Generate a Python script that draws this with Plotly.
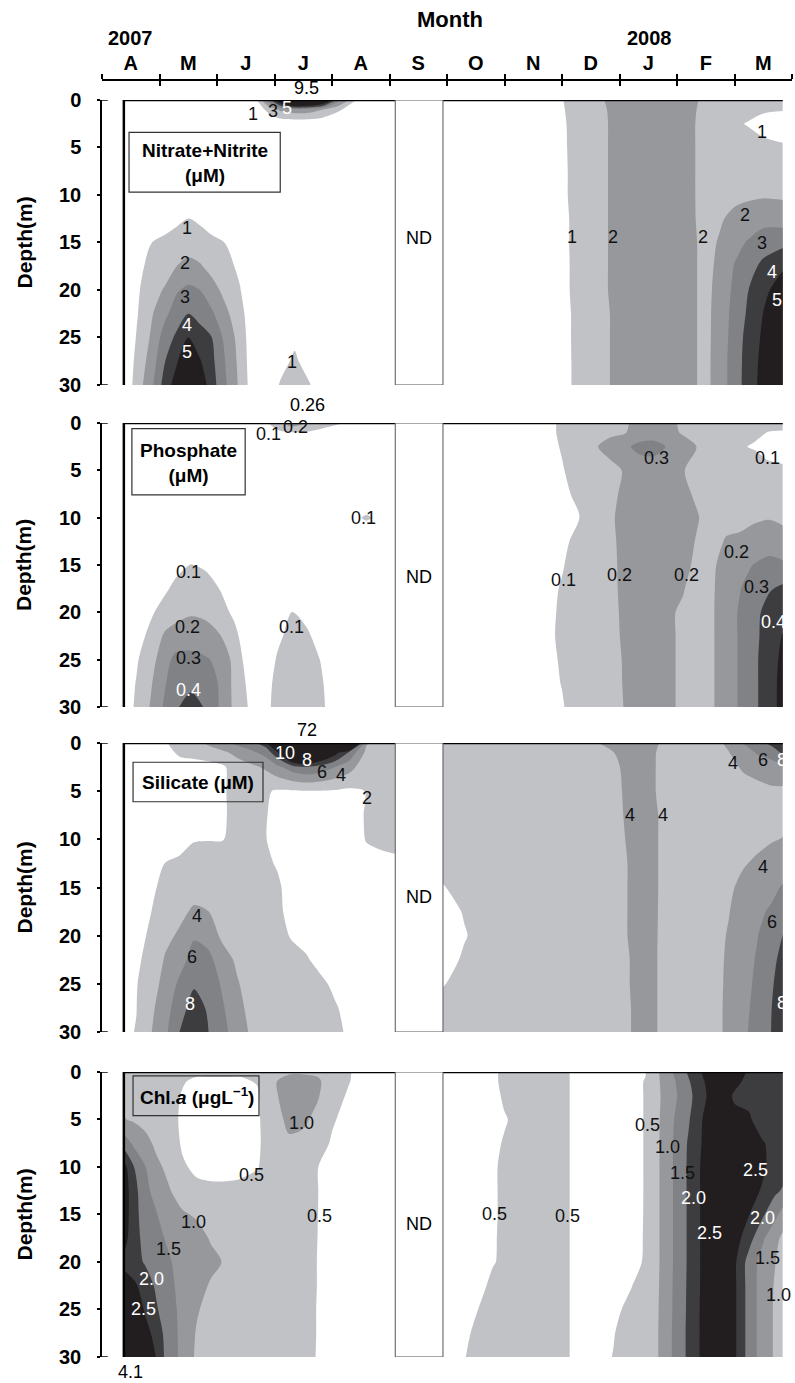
import plotly.graph_objects as go

# Sampling depths (m) shared by every section
DEPTH = [0, 1, 2.5, 5, 7.5, 10, 12.5, 15, 17.5, 20, 22.5, 25, 27.5, 30]
MONTHS = ["A", "M", "J", "J", "A", "S", "O", "N", "D", "J", "F", "M"]

# ---- Nitrate+Nitrite (uM); time in months from 1 April 2007, one profile per cast ----
NO3_X_A = [0.38, 0.6, 0.85, 1.1, 1.3, 1.5, 1.7, 1.9, 2.15, 2.4, 2.65, 2.9, 3.1, 3.35, 3.6, 3.85, 4.1, 4.45, 4.8, 5.1]
NO3_A = [
    [0.1, 0.1, 0.1, 0.1, 0.1, 0.1, 0.1, 0.1, 0.1, 0.1, 0.1, 0.1, 0.1, 0.1],
    [0.1, 0.1, 0.1, 0.1, 0.1, 0.1, 0.1, 0.3, 0.6, 0.8, 0.9, 1.05, 1.25, 1.45],
    [0.1, 0.1, 0.1, 0.1, 0.1, 0.1, 0.5, 0.98, 1.35, 1.63, 1.85, 2.1, 2.4, 2.7],
    [0.1, 0.1, 0.1, 0.1, 0.1, 0.15, 0.6, 1.2, 1.6, 2.1, 2.8, 3.5, 4.0, 4.5],
    [0.1, 0.1, 0.1, 0.1, 0.1, 0.15, 0.8, 1.4, 2.0, 2.9, 3.5, 4.2, 4.9, 5.5],
    [0.1, 0.1, 0.1, 0.1, 0.1, 0.2, 1.02, 1.5, 2.3, 3.2, 4.0, 5.0, 6.0, 6.8],
    [0.1, 0.1, 0.1, 0.1, 0.1, 0.15, 0.85, 1.4, 2.1, 3.0, 3.7, 4.4, 5.1, 5.8],
    [0.1, 0.1, 0.1, 0.1, 0.1, 0.1, 0.6, 1.2, 1.7, 2.4, 3.2, 4.05, 4.3, 4.5],
    [0.1, 0.1, 0.1, 0.1, 0.1, 0.1, 0.4, 0.98, 1.3, 1.7, 2.2, 2.7, 2.95, 3.1],
    [0.1, 0.1, 0.1, 0.1, 0.1, 0.1, 0.1, 0.5, 0.8, 1.05, 1.4, 1.6, 1.7, 1.8],
    [0.5, 0.3, 0.1, 0.1, 0.1, 0.1, 0.1, 0.1, 0.1, 0.1, 0.1, 0.2, 0.25, 0.3],
    [3.5, 1.3, 0.2, 0.1, 0.1, 0.1, 0.1, 0.1, 0.1, 0.1, 0.1, 0.1, 0.2, 0.3],
    [6.5, 2.2, 0.3, 0.1, 0.1, 0.1, 0.1, 0.1, 0.1, 0.1, 0.1, 0.3, 0.6, 1.1],
    [9.5, 2.6, 0.3, 0.1, 0.1, 0.1, 0.1, 0.1, 0.1, 0.1, 0.2, 0.75, 1.2, 1.5],
    [9.0, 2.5, 0.3, 0.1, 0.1, 0.1, 0.1, 0.1, 0.1, 0.1, 0.1, 0.3, 0.5, 1.1],
    [7.0, 2.0, 0.2, 0.1, 0.1, 0.1, 0.1, 0.1, 0.1, 0.1, 0.1, 0.1, 0.1, 0.2],
    [3.5, 1.2, 0.1, 0.1, 0.1, 0.1, 0.1, 0.1, 0.1, 0.1, 0.1, 0.1, 0.1, 0.1],
    [0.8, 0.3, 0.1, 0.1, 0.1, 0.1, 0.1, 0.1, 0.1, 0.1, 0.1, 0.1, 0.1, 0.1],
    [0.1, 0.1, 0.1, 0.1, 0.1, 0.1, 0.1, 0.1, 0.1, 0.1, 0.1, 0.1, 0.1, 0.1],
    [0.1, 0.1, 0.1, 0.1, 0.1, 0.1, 0.1, 0.1, 0.1, 0.1, 0.1, 0.1, 0.1, 0.1],
]
NO3_X_B = [5.93, 7.0, 7.8, 8.3, 8.6, 9.0, 9.5, 10.0, 10.25, 10.5, 10.75, 11.0, 11.25, 11.5, 11.84]
NO3_B = [
    [0.1, 0.1, 0.1, 0.1, 0.1, 0.1, 0.1, 0.1, 0.1, 0.1, 0.1, 0.1, 0.1, 0.1],
    [0.2, 0.2, 0.2, 0.2, 0.2, 0.2, 0.2, 0.2, 0.2, 0.2, 0.2, 0.2, 0.2, 0.2],
    [0.6, 0.55, 0.5, 0.45, 0.4, 0.4, 0.35, 0.35, 0.3, 0.3, 0.25, 0.25, 0.2, 0.2],
    [1.5, 1.45, 1.4, 1.4, 1.4, 1.4, 1.35, 1.35, 1.35, 1.35, 1.3, 1.3, 1.3, 1.3],
    [1.85, 1.75, 1.7, 1.7, 1.7, 1.7, 1.7, 1.7, 1.7, 1.7, 1.65, 1.65, 1.65, 1.65],
    [2.3, 2.3, 2.3, 2.3, 2.3, 2.3, 2.3, 2.3, 2.3, 2.3, 2.25, 2.25, 2.25, 2.25],
    [2.6, 2.6, 2.6, 2.6, 2.6, 2.6, 2.6, 2.6, 2.6, 2.6, 2.6, 2.6, 2.6, 2.6],
    [2.5, 2.5, 2.5, 2.5, 2.5, 2.5, 2.5, 2.5, 2.5, 2.5, 2.5, 2.5, 2.5, 2.5],
    [2.3, 2.2, 2.15, 2.15, 2.15, 2.15, 2.15, 2.2, 2.2, 2.2, 2.2, 2.2, 2.2, 2.2],
    [1.7, 1.65, 1.6, 1.6, 1.6, 1.6, 1.65, 1.7, 1.7, 1.7, 1.7, 1.7, 1.7, 1.7],
    [1.5, 1.4, 1.3, 1.3, 1.4, 1.6, 1.9, 2.1, 2.25, 2.4, 2.5, 2.55, 2.6, 2.6],
    [1.5, 1.3, 1.1, 1.3, 1.6, 1.75, 2.25, 2.7, 3.05, 3.2, 3.3, 3.35, 3.4, 3.4],
    [1.4, 1.2, 0.95, 1.3, 1.7, 1.85, 2.45, 3.1, 3.7, 4.02, 4.2, 4.45, 4.55, 4.6],
    [1.3, 1.1, 0.75, 1.2, 1.8, 1.9, 2.6, 3.6, 4.2, 4.7, 5.02, 5.15, 5.25, 5.3],
    [1.3, 1.05, 0.6, 1.1, 1.7, 1.85, 2.55, 3.75, 4.85, 5.6, 6.0, 6.3, 6.5, 6.6],
]

# ---- Phosphate (uM) ----
PO4_X_A = [0.38, 0.6, 0.85, 1.1, 1.3, 1.55, 1.8, 2.05, 2.3, 2.55, 2.8, 3.05, 3.3, 3.55, 3.8, 4.1, 4.6, 5.1]
PO4_A = [
    [0.03, 0.03, 0.03, 0.03, 0.03, 0.03, 0.03, 0.03, 0.04, 0.04, 0.04, 0.05, 0.05, 0.05],
    [0.03, 0.03, 0.03, 0.03, 0.03, 0.03, 0.03, 0.04, 0.05, 0.06, 0.07, 0.09, 0.105, 0.115],
    [0.03, 0.03, 0.03, 0.03, 0.03, 0.03, 0.04, 0.05, 0.07, 0.09, 0.12, 0.16, 0.19, 0.21],
    [0.03, 0.03, 0.03, 0.03, 0.03, 0.03, 0.04, 0.06, 0.09, 0.13, 0.22, 0.27, 0.295, 0.32],
    [0.03, 0.03, 0.03, 0.03, 0.03, 0.04, 0.05, 0.08, 0.12, 0.17, 0.24, 0.33, 0.36, 0.39],
    [0.03, 0.03, 0.03, 0.03, 0.03, 0.04, 0.06, 0.102, 0.14, 0.19, 0.25, 0.33, 0.37, 0.45],
    [0.03, 0.03, 0.03, 0.03, 0.03, 0.04, 0.05, 0.09, 0.13, 0.18, 0.24, 0.31, 0.36, 0.39],
    [0.03, 0.03, 0.03, 0.03, 0.03, 0.03, 0.04, 0.05, 0.098, 0.14, 0.205, 0.28, 0.29, 0.29],
    [0.03, 0.03, 0.03, 0.03, 0.03, 0.03, 0.03, 0.04, 0.05, 0.08, 0.13, 0.17, 0.175, 0.18],
    [0.04, 0.03, 0.03, 0.03, 0.03, 0.03, 0.03, 0.03, 0.03, 0.03, 0.03, 0.05, 0.08, 0.095],
    [0.06, 0.04, 0.03, 0.03, 0.03, 0.03, 0.03, 0.03, 0.03, 0.03, 0.03, 0.03, 0.03, 0.03],
    [0.17, 0.07, 0.04, 0.03, 0.03, 0.03, 0.03, 0.03, 0.03, 0.04, 0.08, 0.11, 0.14, 0.16],
    [0.26, 0.095, 0.05, 0.03, 0.03, 0.03, 0.03, 0.04, 0.06, 0.102, 0.13, 0.16, 0.18, 0.19],
    [0.205, 0.09, 0.05, 0.03, 0.03, 0.03, 0.03, 0.03, 0.04, 0.07, 0.12, 0.14, 0.15, 0.16],
    [0.15, 0.07, 0.04, 0.03, 0.03, 0.04, 0.03, 0.03, 0.03, 0.04, 0.06, 0.098, 0.115, 0.125],
    [0.11, 0.05, 0.04, 0.04, 0.05, 0.08, 0.05, 0.04, 0.03, 0.03, 0.03, 0.03, 0.03, 0.03],
    [0.06, 0.05, 0.04, 0.05, 0.07, 0.104, 0.07, 0.05, 0.04, 0.03, 0.03, 0.03, 0.03, 0.03],
    [0.05, 0.05, 0.05, 0.05, 0.06, 0.08, 0.06, 0.05, 0.04, 0.04, 0.04, 0.04, 0.04, 0.04],
]
PO4_X_B = [5.93, 7.0, 7.7, 8.0, 8.3, 8.6, 8.85, 9.1, 9.35, 9.6, 9.85, 10.1, 10.35, 10.6, 10.85, 11.1, 11.35, 11.6, 11.84]
PO4_B = [
    [0.04, 0.04, 0.04, 0.04, 0.04, 0.04, 0.04, 0.04, 0.04, 0.04, 0.04, 0.04, 0.04, 0.04],
    [0.05, 0.05, 0.05, 0.05, 0.05, 0.05, 0.05, 0.05, 0.05, 0.05, 0.05, 0.05, 0.05, 0.05],
    [0.08, 0.08, 0.075, 0.07, 0.06, 0.05, 0.06, 0.07, 0.08, 0.08, 0.085, 0.085, 0.08, 0.075],
    [0.11, 0.11, 0.105, 0.095, 0.085, 0.07, 0.085, 0.095, 0.105, 0.11, 0.11, 0.105, 0.102, 0.095],
    [0.14, 0.14, 0.15, 0.13, 0.115, 0.098, 0.12, 0.13, 0.14, 0.14, 0.14, 0.135, 0.13, 0.13],
    [0.15, 0.16, 0.195, 0.15, 0.14, 0.14, 0.15, 0.15, 0.15, 0.15, 0.15, 0.15, 0.15, 0.15],
    [0.16, 0.18, 0.24, 0.17, 0.18, 0.19, 0.185, 0.18, 0.18, 0.175, 0.175, 0.17, 0.17, 0.165],
    [0.19, 0.195, 0.28, 0.21, 0.22, 0.226, 0.225, 0.225, 0.222, 0.22, 0.215, 0.21, 0.208, 0.205],
    [0.23, 0.24, 0.33, 0.24, 0.24, 0.24, 0.24, 0.24, 0.24, 0.235, 0.235, 0.23, 0.23, 0.23],
    [0.24, 0.245, 0.34, 0.24, 0.245, 0.245, 0.245, 0.245, 0.24, 0.24, 0.235, 0.235, 0.235, 0.235],
    [0.22, 0.23, 0.29, 0.23, 0.235, 0.24, 0.24, 0.235, 0.22, 0.21, 0.21, 0.21, 0.21, 0.215],
    [0.187, 0.19, 0.24, 0.205, 0.215, 0.225, 0.225, 0.22, 0.205, 0.19, 0.19, 0.19, 0.19, 0.185],
    [0.16, 0.165, 0.198, 0.17, 0.19, 0.205, 0.195, 0.185, 0.17, 0.16, 0.16, 0.16, 0.16, 0.16],
    [0.15, 0.14, 0.13, 0.14, 0.16, 0.17, 0.175, 0.18, 0.185, 0.185, 0.185, 0.185, 0.185, 0.185],
    [0.15, 0.13, 0.12, 0.14, 0.16, 0.18, 0.205, 0.24, 0.25, 0.26, 0.26, 0.26, 0.26, 0.26],
    [0.14, 0.12, 0.105, 0.13, 0.16, 0.185, 0.21, 0.27, 0.298, 0.31, 0.31, 0.31, 0.31, 0.31],
    [0.13, 0.11, 0.095, 0.13, 0.16, 0.19, 0.23, 0.305, 0.34, 0.37, 0.375, 0.38, 0.38, 0.38],
    [0.12, 0.098, 0.07, 0.12, 0.16, 0.195, 0.25, 0.33, 0.39, 0.44, 0.45, 0.46, 0.46, 0.46],
    [0.12, 0.095, 0.06, 0.115, 0.16, 0.19, 0.22, 0.32, 0.42, 0.47, 0.505, 0.52, 0.53, 0.53],
]

# ---- Silicate (uM) ----
SI_X_A = [0.38, 0.6, 0.85, 1.1, 1.35, 1.6, 1.85, 2.1, 2.35, 2.6, 2.85, 3.05, 3.3, 3.55, 3.8, 4.05, 4.3, 4.6, 4.85, 5.1]
SI_A = [
    [1.0, 1.0, 1.0, 1.0, 1.0, 1.0, 1.1, 1.2, 1.3, 1.4, 1.5, 1.6, 1.7, 1.8],
    [1.0, 1.0, 1.0, 1.0, 1.0, 1.1, 1.2, 1.4, 1.6, 1.7, 1.75, 1.9, 1.98, 2.05],
    [1.2, 1.1, 1.0, 1.0, 1.1, 1.3, 1.6, 1.8, 1.98, 2.15, 2.5, 3.2, 3.6, 3.9],
    [1.9, 1.6, 1.2, 1.1, 1.2, 1.5, 2.02, 2.3, 2.6, 3.5, 4.2, 4.6, 5.1, 5.6],
    [2.5, 2.2, 1.5, 1.2, 1.3, 1.6, 2.2, 2.8, 3.5, 4.3, 5.2, 6.4, 7.3, 8.02],
    [3.0, 2.4, 1.5, 1.3, 1.5, 1.9, 2.7, 3.2, 4.3, 5.8, 6.8, 7.8, 8.7, 9.5],
    [4.5, 2.6, 1.6, 1.5, 1.6, 1.95, 2.7, 3.1, 4.02, 5.3, 6.5, 7.2, 7.8, 8.02],
    [5.5, 3.6, 1.7, 1.8, 1.8, 1.95, 2.6, 2.8, 3.0, 3.5, 5.0, 5.7, 6.2, 6.6],
    [6.5, 4.6, 3.0, 2.6, 2.5, 2.5, 2.6, 2.6, 2.7, 3.0, 3.6, 4.2, 4.6, 5.0],
    [7.6, 5.5, 3.6, 2.8, 2.6, 2.6, 2.6, 2.6, 2.7, 2.8, 2.9, 3.0, 3.4, 3.7],
    [9.0, 6.8, 4.3, 2.2, 2.05, 2.02, 2.1, 2.3, 2.4, 2.6, 2.8, 2.9, 3.0, 3.0],
    [25.0, 9.5, 5.5, 1.8, 1.7, 1.75, 1.95, 2.1, 2.2, 2.4, 2.6, 2.7, 2.8, 2.8],
    [55.0, 16.0, 7.0, 1.8, 1.6, 1.5, 1.55, 1.75, 1.7, 1.9, 2.4, 2.6, 2.7, 2.75],
    [72.0, 18.0, 7.8, 1.9, 1.6, 1.4, 1.4, 1.5, 1.6, 1.7, 2.1, 2.4, 2.55, 2.6],
    [60.0, 14.0, 7.2, 1.9, 1.6, 1.4, 1.4, 1.4, 1.5, 1.6, 1.7, 2.2, 2.4, 2.5],
    [40.0, 11.0, 6.0, 1.8, 1.6, 1.5, 1.4, 1.4, 1.4, 1.5, 1.6, 1.8, 2.1, 2.3],
    [20.0, 7.5, 4.8, 1.6, 1.5, 1.5, 1.4, 1.3, 1.3, 1.4, 1.5, 1.6, 1.7, 1.8],
    [4.2, 3.5, 2.6, 2.05, 2.1, 2.05, 1.7, 1.5, 1.4, 1.4, 1.4, 1.5, 1.5, 1.6],
    [3.0, 2.8, 2.5, 2.3, 2.3, 2.2, 1.75, 1.6, 1.5, 1.5, 1.5, 1.5, 1.5, 1.6],
    [2.8, 2.7, 2.5, 2.4, 2.4, 2.3, 1.8, 1.7, 1.6, 1.6, 1.6, 1.6, 1.6, 1.6],
]
SI_X_B = [5.93, 6.3, 6.7, 7.3, 8.0, 8.6, 8.9, 9.15, 9.4, 9.65, 9.9, 10.3, 10.65, 10.9, 11.15, 11.4, 11.65, 11.84]
SI_B = [
    [2.5, 2.5, 2.5, 2.5, 2.5, 2.4, 2.3, 1.95, 1.7, 1.5, 1.7, 1.95, 2.3, 2.5],
    [2.6, 2.6, 2.6, 2.6, 2.6, 2.6, 2.5, 2.3, 2.05, 1.95, 2.1, 2.3, 2.5, 2.6],
    [2.7, 2.7, 2.7, 2.7, 2.7, 2.7, 2.6, 2.5, 2.4, 2.3, 2.4, 2.5, 2.6, 2.7],
    [2.9, 2.9, 2.9, 2.9, 2.9, 2.9, 2.9, 2.8, 2.8, 2.8, 2.8, 2.8, 2.8, 2.9],
    [3.2, 3.2, 3.2, 3.2, 3.2, 3.2, 3.2, 3.2, 3.2, 3.2, 3.2, 3.2, 3.2, 3.2],
    [3.9, 3.5, 3.4, 3.4, 3.4, 3.4, 3.4, 3.4, 3.4, 3.4, 3.4, 3.4, 3.4, 3.4],
    [4.9, 3.98, 3.7, 3.6, 3.6, 3.6, 3.6, 3.6, 3.6, 3.6, 3.6, 3.6, 3.6, 3.55],
    [5.0, 4.6, 4.4, 4.3, 4.2, 4.1, 4.02, 4.02, 4.02, 4.02, 3.95, 3.95, 3.9, 3.9],
    [5.1, 4.8, 4.6, 4.6, 4.6, 4.6, 4.5, 4.5, 4.5, 4.5, 4.4, 4.4, 4.4, 4.4],
    [4.1, 3.95, 3.95, 3.95, 4.05, 4.05, 4.05, 4.05, 4.05, 4.03, 4.02, 4.02, 4.02, 4.02],
    [3.4, 3.4, 3.4, 3.4, 3.5, 3.5, 3.5, 3.5, 3.4, 3.4, 3.4, 3.4, 3.4, 3.4],
    [3.4, 3.3, 3.2, 3.2, 3.2, 3.2, 3.2, 3.1, 3.1, 3.1, 3.1, 3.1, 3.1, 3.1],
    [3.6, 3.4, 3.2, 3.1, 3.1, 3.2, 3.3, 3.4, 3.5, 3.6, 3.6, 3.6, 3.6, 3.6],
    [4.3, 3.95, 3.5, 3.2, 3.2, 3.3, 3.5, 3.8, 3.95, 4.1, 4.2, 4.25, 4.3, 4.3],
    [6.1, 5.0, 4.2, 3.3, 3.3, 3.5, 3.9, 4.3, 4.6, 4.9, 5.2, 5.5, 5.7, 5.8],
    [7.5, 6.2, 4.6, 3.5, 3.4, 3.7, 4.2, 5.02, 5.6, 5.95, 6.2, 6.3, 6.35, 6.4],
    [8.5, 7.0, 5.02, 3.7, 3.5, 3.9, 4.6, 5.5, 6.3, 7.02, 7.5, 7.8, 8.02, 8.1],
    [9.0, 8.3, 5.5, 3.6, 3.6, 4.05, 5.02, 6.2, 7.2, 8.05, 8.6, 9.0, 9.2, 9.3],
]

# ---- Chlorophyll a (ug/L) ----
CHL_X_A = [0.38, 0.55, 0.75, 0.95, 1.15, 1.4, 1.65, 1.9, 2.15, 2.4, 2.7, 3.0, 3.25, 3.5, 3.75, 4.0, 4.3, 4.7, 5.1]
CHL_A = [
    [0.8, 0.85, 0.9, 1.02, 1.8, 2.7, 2.8, 2.8, 2.7, 2.4, 2.7, 3.3, 3.8, 4.1],
    [0.75, 0.8, 0.85, 0.95, 1.4, 2.02, 2.2, 2.2, 2.2, 2.2, 2.6, 2.9, 3.2, 3.4],
    [0.7, 0.7, 0.75, 0.85, 1.15, 1.52, 1.65, 1.75, 1.85, 1.95, 2.3, 2.45, 2.65, 2.8],
    [0.65, 0.65, 0.65, 0.7, 0.9, 1.1, 1.3, 1.52, 1.6, 1.7, 1.9, 2.05, 2.35, 2.48],
    [0.6, 0.6, 0.6, 0.62, 0.75, 0.9, 1.05, 1.3, 1.45, 1.55, 1.6, 1.65, 1.7, 1.73],
    [0.55, 0.52, 0.48, 0.45, 0.45, 0.55, 0.8, 1.05, 1.25, 1.35, 1.38, 1.4, 1.4, 1.39],
    [0.55, 0.45, 0.4, 0.4, 0.4, 0.42, 0.6, 0.95, 1.15, 1.2, 1.15, 1.05, 0.95, 0.9],
    [0.55, 0.45, 0.35, 0.3, 0.3, 0.35, 0.6, 0.85, 0.96, 1.1, 0.95, 0.8, 0.75, 0.7],
    [0.55, 0.45, 0.35, 0.3, 0.3, 0.35, 0.6, 0.7, 0.8, 0.96, 0.85, 0.7, 0.65, 0.65],
    [0.55, 0.45, 0.35, 0.3, 0.3, 0.35, 0.65, 0.7, 0.7, 0.75, 0.7, 0.65, 0.65, 0.65],
    [0.6, 0.52, 0.45, 0.45, 0.45, 0.48, 0.65, 0.7, 0.7, 0.7, 0.7, 0.65, 0.65, 0.65],
    [0.9, 0.95, 0.9, 0.75, 0.7, 0.7, 0.7, 0.7, 0.7, 0.7, 0.7, 0.7, 0.68, 0.68],
    [0.9, 1.25, 1.3, 1.15, 0.9, 0.75, 0.7, 0.7, 0.7, 0.7, 0.7, 0.7, 0.7, 0.7],
    [0.9, 1.3, 1.35, 1.1, 0.85, 0.7, 0.68, 0.68, 0.68, 0.68, 0.68, 0.68, 0.68, 0.68],
    [0.9, 1.1, 1.05, 0.85, 0.7, 0.51, 0.51, 0.505, 0.498, 0.49, 0.49, 0.48, 0.48, 0.47],
    [0.75, 0.7, 0.65, 0.55, 0.45, 0.3, 0.3, 0.3, 0.3, 0.3, 0.3, 0.3, 0.3, 0.3],
    [0.52, 0.51, 0.45, 0.35, 0.3, 0.25, 0.25, 0.25, 0.25, 0.25, 0.25, 0.25, 0.25, 0.25],
    [0.3, 0.3, 0.3, 0.25, 0.25, 0.2, 0.2, 0.2, 0.2, 0.2, 0.2, 0.2, 0.2, 0.2],
    [0.3, 0.3, 0.3, 0.25, 0.25, 0.2, 0.2, 0.2, 0.2, 0.2, 0.2, 0.2, 0.2, 0.2],
]
CHL_X_B = [5.93, 6.3, 6.6, 6.8, 7.0, 7.5, 8.0, 8.3, 8.6, 8.9, 9.2, 9.45, 9.6, 9.8, 10.0, 10.2, 10.45, 10.7, 11.0, 11.25, 11.5, 11.7, 11.84]
CHL_B = [
    [0.3, 0.3, 0.3, 0.3, 0.3, 0.3, 0.3, 0.3, 0.3, 0.3, 0.32, 0.34, 0.36, 0.38],
    [0.3, 0.3, 0.3, 0.3, 0.3, 0.3, 0.3, 0.3, 0.32, 0.35, 0.38, 0.42, 0.46, 0.49],
    [0.35, 0.35, 0.35, 0.35, 0.35, 0.35, 0.36, 0.38, 0.4, 0.43, 0.47, 0.52, 0.57, 0.6],
    [0.45, 0.45, 0.42, 0.4, 0.45, 0.46, 0.46, 0.46, 0.47, 0.49, 0.54, 0.6, 0.62, 0.63],
    [0.56, 0.56, 0.54, 0.48, 0.52, 0.56, 0.56, 0.56, 0.56, 0.53, 0.6, 0.62, 0.63, 0.64],
    [0.65, 0.65, 0.65, 0.65, 0.65, 0.65, 0.65, 0.65, 0.65, 0.65, 0.65, 0.65, 0.65, 0.65],
    [0.58, 0.58, 0.58, 0.58, 0.58, 0.58, 0.58, 0.58, 0.58, 0.58, 0.58, 0.58, 0.58, 0.58],
    [0.4, 0.4, 0.4, 0.4, 0.4, 0.4, 0.4, 0.4, 0.4, 0.4, 0.4, 0.4, 0.4, 0.4],
    [0.35, 0.35, 0.35, 0.35, 0.35, 0.35, 0.35, 0.35, 0.35, 0.35, 0.36, 0.38, 0.4, 0.42],
    [0.35, 0.35, 0.35, 0.35, 0.35, 0.35, 0.35, 0.35, 0.36, 0.38, 0.41, 0.45, 0.49, 0.51],
    [0.38, 0.38, 0.38, 0.38, 0.38, 0.38, 0.38, 0.39, 0.41, 0.44, 0.49, 0.56, 0.62, 0.66],
    [0.48, 0.52, 0.52, 0.52, 0.52, 0.52, 0.52, 0.52, 0.52, 0.52, 0.6, 0.7, 0.75, 0.78],
    [0.8, 0.8, 0.8, 0.8, 0.8, 0.8, 0.8, 0.8, 0.8, 0.8, 0.82, 0.84, 0.85, 0.85],
    [1.25, 1.2, 1.15, 1.2, 1.22, 1.22, 1.22, 1.22, 1.22, 1.22, 1.23, 1.24, 1.25, 1.25],
    [1.65, 1.55, 1.49, 1.6, 1.65, 1.65, 1.65, 1.65, 1.65, 1.65, 1.67, 1.68, 1.7, 1.7],
    [2.07, 1.95, 1.85, 1.95, 2.05, 2.07, 2.07, 2.07, 2.07, 2.07, 2.08, 2.09, 2.1, 2.1],
    [2.55, 2.45, 2.4, 2.52, 2.55, 2.6, 2.6, 2.6, 2.6, 2.6, 2.6, 2.62, 2.62, 2.62],
    [3.0, 2.9, 2.8, 2.9, 3.0, 3.0, 3.0, 3.0, 3.0, 3.0, 3.0, 3.0, 3.0, 3.0],
    [2.7, 2.6, 2.45, 2.6, 2.8, 2.85, 2.9, 2.85, 2.75, 2.6, 2.6, 2.6, 2.6, 2.6],
    [2.45, 2.4, 2.4, 2.55, 2.65, 2.7, 2.65, 2.52, 2.2, 1.8, 1.8, 1.8, 1.8, 1.8],
    [2.4, 2.4, 2.35, 2.3, 2.52, 2.55, 2.45, 2.05, 1.55, 1.3, 1.25, 1.25, 1.25, 1.25],
    [2.35, 2.35, 2.3, 2.3, 2.4, 2.35, 2.1, 1.65, 1.15, 1.02, 0.97, 0.95, 0.95, 0.95],
    [2.3, 2.3, 2.2, 2.25, 2.3, 2.2, 1.95, 1.3, 0.9, 0.85, 0.8, 0.8, 0.8, 0.8],
]

# Contour levels (first, last, step)
NO3_LEVELS = (1, 5, 1)
PO4_LEVELS = (0.1, 0.5, 0.1)
SI_LEVELS = (2, 10, 2)
CHL_LEVELS = (0.5, 2.5, 0.5)

K, W = "#111111", "#ffffff"
NO3_LABELS = [
    ("1", 2.63, 1.5, K), ("3", 2.98, 1.2, K), ("5", 3.22, 0.8, W),
    ("1", 1.48, 13.5, K), ("2", 1.45, 17.2, K), ("3", 1.45, 20.7, K), ("4", 1.48, 23.7, W), ("5", 1.48, 26.5, W),
    ("1", 3.3, 27.6, K),
    ("1", 8.17, 14.4, K), ("2", 8.89, 14.4, K), ("2", 10.45, 14.4, K), ("2", 11.18, 12.1, K),
    ("3", 11.48, 15.1, K), ("4", 11.65, 18.1, W), ("5", 11.74, 21.1, W), ("1", 11.48, 3.4, K),
]
PO4_LABELS = [
    ("0.1", 2.89, 1.2, K), ("0.2", 3.36, 0.45, K), ("0.1", 4.54, 10.0, K),
    ("0.1", 1.5, 15.7, K), ("0.2", 1.48, 21.5, K), ("0.3", 1.5, 24.8, K), ("0.4", 1.5, 28.2, W),
    ("0.1", 3.3, 21.6, K),
    ("0.1", 8.02, 16.6, K), ("0.2", 9.0, 16.1, K), ("0.2", 10.17, 16.1, K), ("0.2", 11.04, 13.6, K),
    ("0.3", 11.38, 17.3, K), ("0.4", 11.67, 21.0, W), ("0.3", 9.65, 3.7, K), ("0.1", 11.58, 3.7, K),
]
SI_LABELS = [
    ("10", 3.18, 1.0, W), ("8", 3.57, 1.8, W), ("6", 3.82, 3.0, K), ("4", 4.15, 3.3, K), ("2", 4.6, 5.7, K),
    ("4", 1.65, 18.0, K), ("6", 1.56, 22.2, K), ("8", 1.53, 27.1, W),
    ("4", 9.18, 7.5, K), ("4", 9.76, 7.5, K), ("4", 10.97, 2.1, K), ("6", 11.5, 1.8, K), ("8", 11.83, 1.8, W),
    ("4", 11.5, 12.9, K), ("6", 11.65, 18.6, K), ("8", 11.83, 27.0, W),
]
CHL_LABELS = [
    ("1.0", 3.47, 5.4, K), ("0.5", 2.6, 10.8, K), ("0.5", 3.78, 15.2, K), ("1.0", 1.59, 15.8, K),
    ("1.5", 1.15, 18.6, K), ("2.0", 0.86, 21.8, W), ("2.5", 0.72, 25.0, W),
    ("0.5", 6.83, 15.0, K), ("0.5", 8.1, 15.2, K), ("0.5", 9.48, 5.6, K), ("1.0", 9.84, 7.9, K),
    ("1.5", 10.09, 10.6, K), ("2.0", 10.28, 13.3, W), ("2.5", 10.57, 17.0, W), ("2.5", 11.36, 10.3, W),
    ("2.0", 11.48, 15.4, W), ("1.5", 11.58, 19.6, K), ("1.0", 11.76, 23.5, K),
]

GRAYS = ["#ffffff", "#c1c2c6", "#97989c", "#818286", "#3d3d3f", "#221e1f"]
FONT = "Liberation Sans, Arial, sans-serif"

# peak = (text, month position, "top" above the surface line / "bottom" under the 30 m line, pixel shift)
PANELS = [
    dict(spring=(NO3_X_A, NO3_A), winter=(NO3_X_B, NO3_B), levels=NO3_LEVELS, labels=NO3_LABELS,
         name="<b>Nitrate+Nitrite<br>(μM)</b>", name_at=(1.79, 6.6), box=(0.47, 3.1, 3.4, 9.7),
         peak=("9.5", 3.55, "top", 0), nd_at=14.5, domain=(0.76116, 0.98434)),
    dict(spring=(PO4_X_A, PO4_A), winter=(PO4_X_B, PO4_B), levels=PO4_LEVELS, labels=PO4_LABELS,
         name="<b>Phosphate<br>(μM)</b>", name_at=(1.5, 4.2), box=(0.52, 2.49, 0.6, 7.6),
         peak=("0.26", 3.58, "top", 6), nd_at=16.3, domain=(0.50901, 0.73140)),
    dict(spring=(SI_X_A, SI_A), winter=(SI_X_B, SI_B), levels=SI_LEVELS, labels=SI_LABELS,
         name="<b>Silicate (μM)</b>", name_at=(1.67, 4.1), box=(0.54, 2.8, 2.0, 6.1),
         peak=("72", 3.57, "top", 1), nd_at=16.0, domain=(0.25450, 0.48082)),
    dict(spring=(CHL_X_A, CHL_A), winter=(CHL_X_B, CHL_B), levels=CHL_LEVELS, labels=CHL_LABELS,
         name="<b>Chl.<i>a</i> (μgL<sup>−1</sup>)</b>", name_at=(1.65, 2.5), box=(0.54, 2.73, 0.4, 4.6),
         peak=("4.1", 0.49, "bottom", -3), nd_at=16.0, domain=(0.0, 0.22318)),
]

colorscale = [[i / 5, c] for i, c in enumerate(GRAYS)]

fig = go.Figure()
shapes, annotations = [], []
layout_axes = {}

for k, p in enumerate(PANELS, start=1):
    xa, ya = ("x", "y") if k == 1 else (f"x{k}", f"y{k}")
    lo, hi, step = p["levels"]
    for xs, profiles in (p["spring"], p["winter"]):
        z = [list(row) for row in zip(*profiles)]
        fig.add_trace(go.Contour(
            x=xs, y=DEPTH, z=z, xaxis=xa, yaxis=ya,
            autocontour=False,
            contours=dict(start=lo, end=hi, size=step, coloring="fill", showlines=False),
            colorscale=colorscale, showscale=False,
            line=dict(width=0, smoothing=0.85),
            hoverinfo="skip",
        ))

    layout_axes["xaxis" if k == 1 else f"xaxis{k}"] = dict(
        domain=[0, 1], range=[0, 12], visible=False, anchor=ya, fixedrange=True)
    layout_axes["yaxis" if k == 1 else f"yaxis{k}"] = dict(
        domain=list(p["domain"]), range=[30, 0], anchor=xa,
        tickvals=[0, 5, 10, 15, 20, 25, 30], ticks="outside", ticklen=3, tickwidth=1.5,
        tickcolor="black", showline=True, linewidth=1.5, linecolor="black",
        showgrid=False, zeroline=False, ticklabelstandoff=12,
        tickfont=dict(family=FONT, size=20, color="black", weight="bold"))

    # section frame: surface line, first-cast line, bracket ends of the depth axis
    xs_a, xs_b = p["spring"][0], p["winter"][0]
    line_kw = dict(type="line", xref=xa, yref=ya, layer="above")
    shapes += [
        dict(**line_kw, x0=xs_a[0], x1=xs_a[-1], y0=0, y1=0, line=dict(color="black", width=2.5)),
        dict(**line_kw, x0=xs_b[0], x1=xs_b[-1], y0=0, y1=0, line=dict(color="black", width=2.5)),
        dict(**line_kw, x0=xs_a[0], x1=xs_a[0], y0=0, y1=30, line=dict(color="black", width=2.5)),
        dict(**line_kw, x0=0, x1=0.1, y0=0, y1=0, line=dict(color="black", width=1.5)),
        dict(**line_kw, x0=0, x1=0.1, y0=30, y1=30, line=dict(color="black", width=1.5)),
        # no-data gap (September)
        dict(type="rect", xref=xa, yref=ya, x0=xs_a[-1], x1=xs_b[0], y0=0, y1=30,
             line=dict(color="#555555", width=1), fillcolor="white", layer="above"),
        # variable name box
        dict(type="rect", xref=xa, yref=ya, x0=p["box"][0], x1=p["box"][1], y0=p["box"][2], y1=p["box"][3],
             line=dict(color="#333333", width=1.2), fillcolor="rgba(0,0,0,0)", layer="above"),
    ]
    annotations.append(dict(text="ND", x=(xs_a[-1] + xs_b[0]) / 2, y=p["nd_at"], xref=xa, yref=ya,
                            showarrow=False, font=dict(family=FONT, size=18, color="black")))
    annotations.append(dict(text=p["name"], x=p["name_at"][0], y=p["name_at"][1], xref=xa, yref=ya,
                            showarrow=False, font=dict(family=FONT, size=19, color="black")))
    for txt, lx, ld, col in p["labels"]:
        annotations.append(dict(text=txt, x=lx, y=ld, xref=xa, yref=ya, showarrow=False,
                                font=dict(family=FONT, size=18, color=col)))
    ptxt, px_, side, shift = p["peak"]
    annotations.append(dict(text=ptxt, x=px_, y=0 if side == "top" else 30, xref=xa, yref=ya,
                            showarrow=False, yanchor="bottom" if side == "top" else "top",
                            yshift=shift, font=dict(family=FONT, size=18, color="black")))
    annotations.append(dict(text="<b>Depth(m)</b>", x=-0.113, y=sum(p["domain"]) / 2,
                            xref="paper", yref="paper", xanchor="center", yanchor="middle",
                            textangle=-90, showarrow=False, font=dict(family=FONT, size=21, color="black")))

# Month axis across the top: boundary ticks on both sides of the line, letters centred in each month
top_common = dict(overlaying="x", side="top", anchor="free", position=1, range=[0, 12],
                  showgrid=False, zeroline=False, fixedrange=True)
layout_axes["xaxis5"] = dict(**top_common, tickvals=list(range(13)), ticks="outside", ticklen=5,
                             tickwidth=1.5, tickcolor="black", showticklabels=False,
                             showline=True, linewidth=1.5, linecolor="black")
layout_axes["xaxis6"] = dict(**top_common, tickvals=list(range(13)), ticks="inside", ticklen=5,
                             tickwidth=1.5, tickcolor="black", showticklabels=False, showline=False)
layout_axes["xaxis7"] = dict(**top_common, tickvals=[m + 0.5 for m in range(12)], ticktext=MONTHS,
                             ticks="", showline=False, ticklabelstandoff=6,
                             tickfont=dict(family=FONT, size=20, color="black", weight="bold"))
# empty traces so the overlaid month axes are laid out and drawn
for ax in ("x5", "x6", "x7"):
    fig.add_trace(go.Scatter(x=[], y=[], xaxis=ax, yaxis="y", hoverinfo="skip", showlegend=False))

annotations += [
    dict(text="<b>Month</b>", x=0.504, y=1.047, xref="paper", yref="paper", showarrow=False,
         xanchor="center", yanchor="middle", font=dict(family=FONT, size=22, color="black")),
    dict(text="<b>2007</b>", x=0.042, y=1.0329, xref="paper", yref="paper", showarrow=False,
         xanchor="center", yanchor="middle", font=dict(family=FONT, size=20, color="black")),
    dict(text="<b>2008</b>", x=0.793, y=1.0329, xref="paper", yref="paper", showarrow=False,
         xanchor="center", yanchor="middle", font=dict(family=FONT, size=20, color="black")),
]

fig.update_layout(
    width=795, height=1383,
    margin=dict(l=102, r=3, t=80, b=26),
    paper_bgcolor="white", plot_bgcolor="white",
    showlegend=False,
    shapes=shapes, annotations=annotations,
    font=dict(family=FONT, color="black"),
    **layout_axes,
)

fig.write_html("out.html")
